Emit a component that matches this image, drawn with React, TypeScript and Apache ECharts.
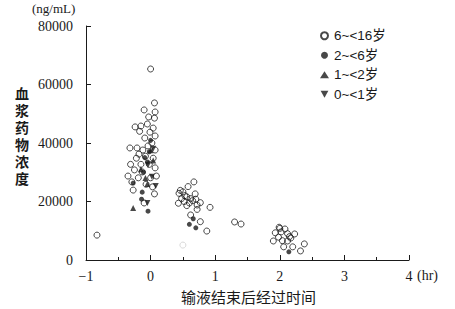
import React, { useEffect, useRef } from "react";
import * as echarts from "echarts";

const seriesNames = ["6~<16岁", "2~<6岁", "1~<2岁", "0~<1岁"];

// [hours after end of infusion, concentration ng/mL]
const age6to16: number[][] = [
  [0.0, 65300], [0.06, 53700], [0.07, 50600], [-0.1, 51300], [-0.03, 48900], [0.06, 48500],
  [-0.24, 45500], [-0.15, 45800], [-0.05, 46500], [0.04, 45100], [-0.17, 44000], [-0.01, 43700],
  [0.07, 42400], [-0.09, 41700], [-0.32, 38300], [-0.21, 38300], [0.02, 40000], [-0.04, 39000],
  [-0.12, 37600], [0.07, 37600], [-0.18, 36200], [-0.08, 35500], [0.04, 34800], [-0.22, 34800],
  [-0.15, 32700], [-0.02, 32700], [-0.31, 32700], [-0.25, 30800], [-0.13, 30100], [0.07, 31500],
  [-0.35, 28700], [-0.19, 28100], [0.0, 28100], [0.09, 28700], [-0.29, 26700], [-0.07, 25900],
  [0.03, 25000], [-0.27, 23900], [0.06, 22600], [-0.1, 19500], [-0.83, 8500],
  [0.46, 23800], [0.44, 22800], [0.5, 23300], [0.58, 25100], [0.67, 26700], [0.43, 19400],
  [0.56, 21600], [0.62, 21000], [0.69, 22600], [0.77, 19600], [0.72, 18800], [0.72, 17300],
  [0.56, 18600], [0.92, 18000], [0.62, 15400], [0.77, 13100], [0.87, 9900], [1.3, 13000],
  [1.4, 12300], [0.48, 21000], [0.52, 20000], [0.6, 19500], [0.65, 20300],
  [0.7, 20800], [0.53, 22000],
  [1.9, 6500], [1.93, 9300], [1.99, 11200], [2.02, 9600], [2.08, 10600], [2.12, 9000],
  [2.23, 8900], [2.04, 6600], [2.12, 6500], [2.2, 4500], [2.06, 4500], [2.32, 3100],
  [2.38, 5500], [1.98, 7800], [2.17, 7500], [2.0, 10800], [2.15, 8000],
];
// a faintly printed open circle in the source figure
const age6to16Faint: number[][] = [[0.5, 5100]];
const age2to6: number[][] = [
  [-0.27, 26300], [-0.13, 23200], [-0.14, 20800], [-0.04, 16700], [-0.05, 33500], [-0.09, 35000],
  [0.0, 40900], [-0.11, 30000], [-0.02, 37000], [0.66, 14100], [0.6, 12200], [0.7, 11000],
  [2.14, 2800],
];
const age1to2: number[][] = [
  [-0.27, 17800], [-0.05, 26000], [0.04, 34000], [-0.15, 31000], [0.0, 37500], [-0.08, 28000],
];
const age0to1: number[][] = [
  [-0.05, 19500], [0.02, 28500], [0.08, 25300], [-0.04, 32500], [0.04, 38000],
];

const xTicks = { min: -1, max: 4, interval: 1 };
const yTicks = { min: 0, max: 80000, interval: 20000 };
const yNameChars = ["血", "浆", "药", "物", "浓", "度"];

const serif = "'Liberation Serif', 'Times New Roman', serif";
const sans = "'Liberation Sans', 'Noto Sans CJK SC', sans-serif";
const cjk = "'Noto Sans CJK SC', sans-serif";

export default function App() {
  const ref = useRef<HTMLDivElement>(null);
  useEffect(() => {
    if (!ref.current) return;
    const chart = echarts.init(ref.current, null, { renderer: "svg" });
    const ink = "#1a1a1a";
    chart.setOption({
      animation: false,
      backgroundColor: "#fff",
      grid: { left: 86, right: 46, top: 26, bottom: 49 },
      legend: {
        orient: "vertical",
        left: 315,
        top: 24,
        itemWidth: 9,
        itemHeight: 7,
        itemGap: 6,
        textStyle: { fontFamily: sans, fontSize: 13.5, color: ink },
        data: seriesNames,
      },
      xAxis: {
        type: "value",
        min: xTicks.min,
        max: xTicks.max,
        interval: xTicks.interval,
        axisLine: { onZero: false, lineStyle: { color: ink, width: 1 } },
        axisTick: { inside: true, length: 5, lineStyle: { color: ink } },
        minorTick: { show: true, splitNumber: 2, length: 3, lineStyle: { color: ink } },
        splitLine: { show: false },
        axisLabel: {
          margin: 9,
          fontFamily: serif,
          fontSize: 14,
          color: ink,
          formatter: (v: number) => (v < 0 ? "\u2212" + Math.abs(v) : String(v)),
        },
      },
      yAxis: {
        type: "value",
        min: yTicks.min,
        max: yTicks.max,
        interval: yTicks.interval,
        axisLine: { show: true, onZero: false, lineStyle: { color: ink, width: 1 } },
        axisTick: { show: true, inside: true, length: 5, lineStyle: { color: ink } },
        splitLine: { show: false },
        axisLabel: {
          margin: 13,
          fontFamily: serif,
          fontSize: 14,
          color: ink,
          formatter: (v: number) => String(v),
        },
      },
      graphic: [
        { type: "text", left: 32, top: 2, style: { text: "(ng/mL)", font: `13px ${serif}`, fill: ink } },
        { type: "text", left: 417, top: 268, style: { text: "(hr)", font: `14px ${serif}`, fill: ink } },
        {
          type: "text",
          left: 181,
          top: 289,
          style: { text: "输液结束后经过时间", font: `15px ${cjk}`, fill: ink },
        },
        ...yNameChars.map((ch, i) => ({
          type: "text",
          left: 15,
          top: 87 + i * 17,
          style: { text: ch, font: `bold 14px ${sans}`, fill: ink },
        })),
      ],
      series: [
        {
          name: seriesNames[0],
          type: "scatter",
          symbol: "circle",
          symbolSize: 6,
          itemStyle: { color: "rgba(255,255,255,0)", borderColor: ink, borderWidth: 1 },
          data: age6to16,
        },
        {
          name: seriesNames[0],
          type: "scatter",
          symbol: "circle",
          symbolSize: 6,
          itemStyle: { color: "rgba(255,255,255,0)", borderColor: "#d0d0d0", borderWidth: 1 },
          data: age6to16Faint,
        },
        {
          name: seriesNames[1],
          type: "scatter",
          symbol: "circle",
          symbolSize: 5,
          itemStyle: { color: ink },
          data: age2to6,
        },
        {
          name: seriesNames[2],
          type: "scatter",
          symbol: "triangle",
          symbolSize: 6,
          itemStyle: { color: ink },
          data: age1to2,
        },
        {
          name: seriesNames[3],
          type: "scatter",
          symbol: "path://M0,0L10,0L5,9Z",
          symbolSize: 6,
          itemStyle: { color: ink },
          data: age0to1,
        },
      ],
    });
    return () => chart.dispose();
  }, []);
  return (
    <div
      ref={ref}
      style={{ position: "fixed", left: 0, top: 0, width: 455, height: 309, background: "#fff" }}
    />
  );
}
